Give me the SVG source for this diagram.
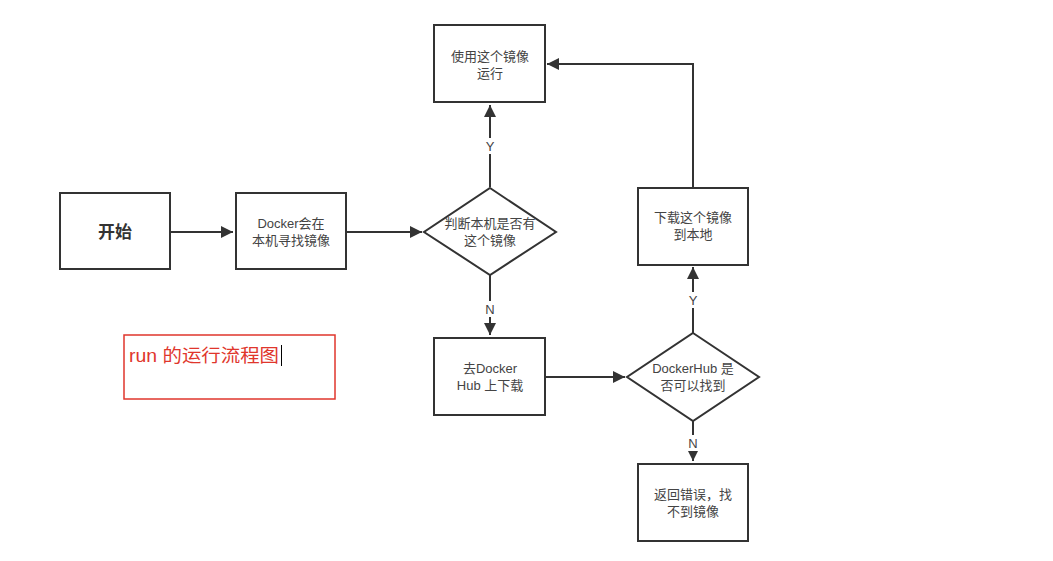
<svg xmlns="http://www.w3.org/2000/svg" width="1053" height="561" viewBox="0 0 1053 561">
<defs>
<style>
.box{fill:#fff;stroke:#333;stroke-width:2}
.t{font-family:"Liberation Sans","Noto Sans CJK SC",sans-serif;font-size:13px;fill:#444;text-anchor:middle}
.lbl{font-family:"Liberation Sans","Noto Sans CJK SC",sans-serif;font-size:13px;fill:#444;text-anchor:middle}
.c{fill:none;stroke:#333;stroke-width:2}
</style>
<marker id="ah" viewBox="0 0 10 10" refX="10" refY="5" markerWidth="6" markerHeight="6" orient="auto" markerUnits="strokeWidth">
<path d="M0,0 L10,5 L0,10 z" fill="#333"/>
</marker>
</defs>
<rect width="1053" height="561" fill="#fff"/>
<g id="connectors">
<line class="c" x1="170" y1="232" x2="233" y2="232" marker-end="url(#ah)"/>
<line class="c" x1="346" y1="232" x2="422" y2="232" marker-end="url(#ah)"/>
<line class="c" x1="490" y1="187" x2="490" y2="105" marker-end="url(#ah)"/>
<line class="c" x1="490" y1="275" x2="490" y2="335" marker-end="url(#ah)"/>
<line class="c" x1="545" y1="377" x2="625" y2="377" marker-end="url(#ah)"/>
<line class="c" x1="693" y1="333" x2="693" y2="267" marker-end="url(#ah)"/>
<line class="c" x1="693" y1="421" x2="693" y2="461" marker-end="url(#ah)"/>
<polyline class="c" points="693,187 693,64 547,64" marker-end="url(#ah)"/>
<rect x="484" y="138" width="12" height="16" fill="#fff"/>
<text class="lbl" x="490" y="151">Y</text>
<rect x="484" y="301" width="12" height="16" fill="#fff"/>
<text class="lbl" x="490" y="314">N</text>
<rect x="687" y="292" width="12" height="16" fill="#fff"/>
<text class="lbl" x="693" y="305">Y</text>
<rect x="687" y="435" width="12" height="16" fill="#fff"/>
<text class="lbl" x="693" y="448">N</text>
</g>
<g id="start">
<rect class="box" x="60" y="193" width="110" height="76"/>
<text x="115" y="238" font-family="'Liberation Sans','Noto Sans CJK SC',sans-serif" font-size="17" font-weight="bold" fill="#333" text-anchor="middle">开始</text>
</g>
<g id="search">
<rect class="box" x="236" y="193" width="110" height="76"/>
<text class="t" x="291" y="228">Docker会在</text>
<text class="t" x="291" y="245">本机寻找镜像</text>
</g>
<g id="decide1">
<polygon class="box" points="490,188 556,232 490,275 424,232"/>
<text class="t" x="490" y="228">判断本机是否有</text>
<text class="t" x="490" y="245">这个镜像</text>
</g>
<g id="run">
<rect class="box" x="434" y="25" width="111" height="77"/>
<text class="t" x="490" y="61">使用这个镜像</text>
<text class="t" x="490" y="78">运行</text>
</g>
<g id="hub">
<rect class="box" x="434" y="338" width="111" height="77"/>
<text class="t" x="490" y="373">去Docker</text>
<text class="t" x="490" y="390">Hub 上下载</text>
</g>
<g id="decide2">
<polygon class="box" points="693,333 759,377 693,421 627,377"/>
<text class="t" x="693" y="373">DockerHub 是</text>
<text class="t" x="693" y="390">否可以找到</text>
</g>
<g id="download">
<rect class="box" x="638" y="188" width="110" height="77"/>
<text class="t" x="693" y="222">下载这个镜像</text>
<text class="t" x="693" y="239">到本地</text>
</g>
<g id="error">
<rect class="box" x="638" y="464" width="110" height="77"/>
<text class="t" x="693" y="499">返回错误，找</text>
<text class="t" x="693" y="516">不到镜像</text>
</g>
<g id="note">
<rect x="124" y="335" width="211" height="64" fill="#fff" stroke="#e0362c" stroke-width="1.5"/>
<text x="129" y="362" font-family="'Liberation Sans','Noto Sans CJK SC',sans-serif" font-size="18" fill="#e0362c" textLength="150" lengthAdjust="spacingAndGlyphs">run 的运行流程图</text>
<line x1="281.5" y1="345" x2="281.5" y2="366" stroke="#000" stroke-width="1"/>
</g>
</svg>
